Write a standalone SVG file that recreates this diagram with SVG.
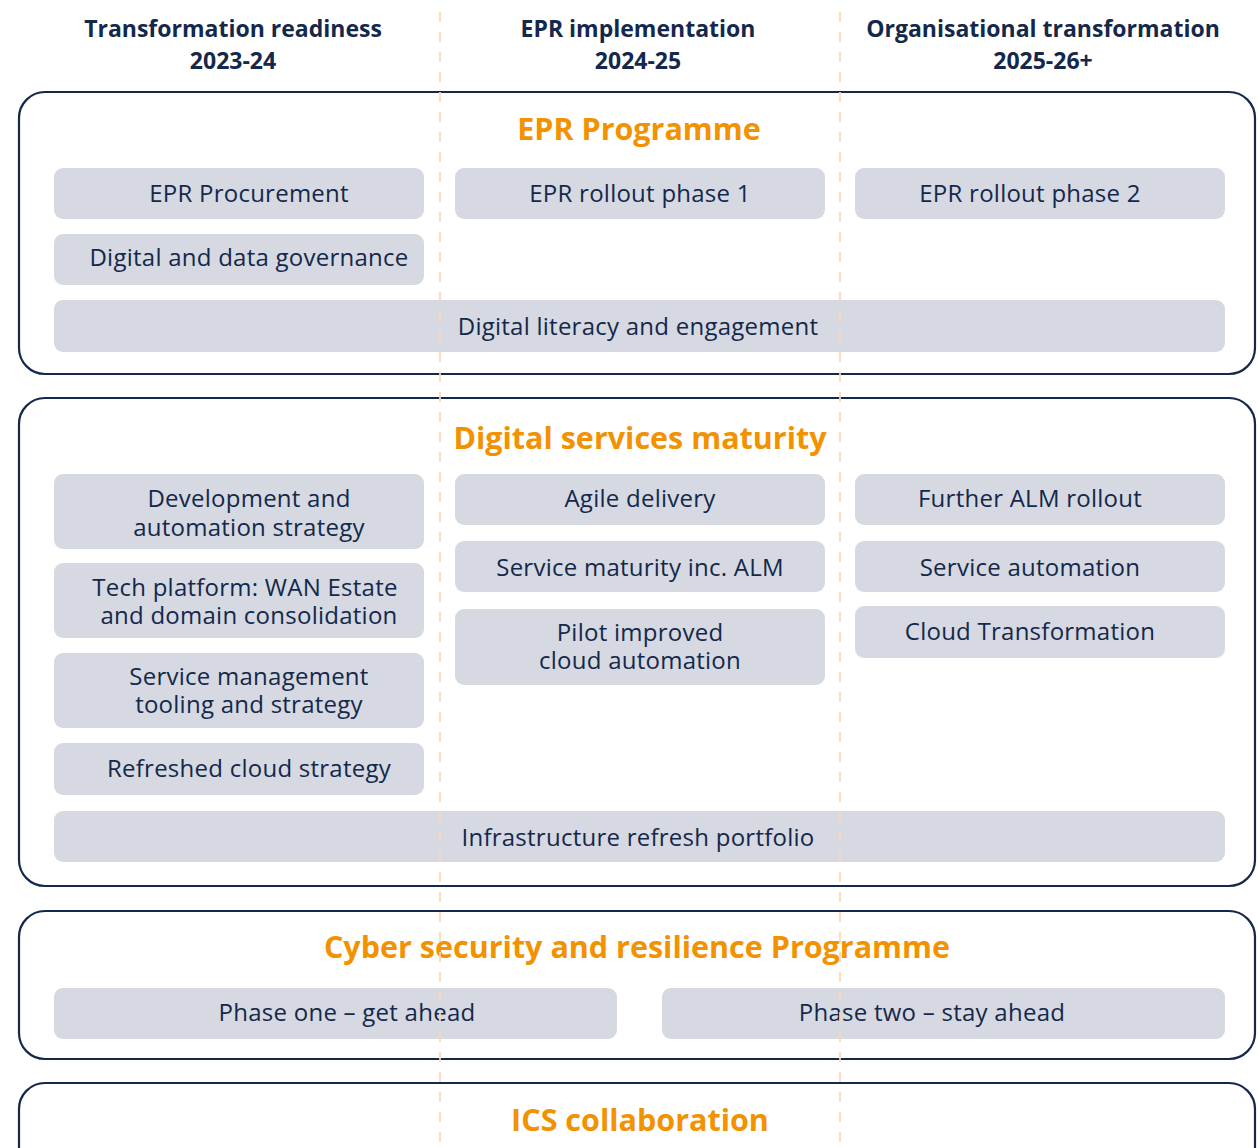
<svg xmlns="http://www.w3.org/2000/svg" width="1258" height="1148" viewBox="0 0 1258 1148">
  <style>
    .hdr { font-family: "Open Sans", "Noto Sans", sans-serif; font-weight: 700; font-size: 23px; fill: #14284b; text-anchor: middle; }
    .frame { fill: #ffffff; stroke: #14284b; stroke-width: 2.2; }
    .title { font-family: "Open Sans", "Noto Sans", sans-serif; font-weight: 700; font-size: 30.5px; fill: #f39200; text-anchor: middle; }
    .item rect { fill: #d6d9e1; }
    .item text { font-family: "Open Sans", "Noto Sans", sans-serif; font-size: 24px; letter-spacing: 0.25px; fill: #14284b; text-anchor: middle; }
    .guide { stroke: #fcd9b0; stroke-width: 2; stroke-dasharray: 10 10; opacity: 0.85; }
  </style>

  <rect width="1258" height="1148" fill="#ffffff"/>

  <!-- Phase headers -->
  <g id="header-readiness">
    <text class="hdr" x="233" y="37">Transformation readiness</text>
    <text class="hdr" x="233" y="69">2023-24</text>
  </g>
  <g id="header-implementation">
    <text class="hdr" x="638" y="37">EPR implementation</text>
    <text class="hdr" x="638" y="69">2024-25</text>
  </g>
  <g id="header-organisational">
    <text class="hdr" x="1043" y="37">Organisational transformation</text>
    <text class="hdr" x="1043" y="69">2025-26+</text>
  </g>

  <!-- EPR Programme -->
  <g id="epr-programme">
    <rect class="frame" x="19" y="92" width="1236" height="282" rx="26"/>
    <text class="title" x="639" y="140">EPR Programme</text>
    <g id="epr-procurement" class="item">
      <rect x="54" y="168" width="370" height="51" rx="9"/>
      <text x="249" y="202">EPR Procurement</text>
    </g>
    <g id="epr-rollout-1" class="item">
      <rect x="455" y="168" width="370" height="51" rx="9"/>
      <text x="640" y="202">EPR rollout phase 1</text>
    </g>
    <g id="epr-rollout-2" class="item">
      <rect x="855" y="168" width="370" height="51" rx="9"/>
      <text x="1030" y="202">EPR rollout phase 2</text>
    </g>
    <g id="data-governance" class="item">
      <rect x="54" y="234" width="370" height="51" rx="9"/>
      <text x="249" y="266">Digital and data governance</text>
    </g>
    <g id="digital-literacy" class="item">
      <rect x="54" y="300" width="1171" height="52" rx="9"/>
      <text x="638" y="335">Digital literacy and engagement</text>
    </g>
  </g>

  <!-- Digital services maturity -->
  <g id="digital-services">
    <rect class="frame" x="19" y="398" width="1236" height="488" rx="26"/>
    <text class="title" x="640" y="449">Digital services maturity</text>
    <g id="dev-automation" class="item">
      <rect x="54" y="474" width="370" height="75" rx="9"/>
      <text x="249" y="507">Development and</text>
      <text x="249" y="536">automation strategy</text>
    </g>
    <g id="tech-platform" class="item">
      <rect x="54" y="563" width="370" height="75" rx="9"/>
      <text x="245" y="596">Tech platform: WAN Estate</text>
      <text x="249" y="624">and domain consolidation</text>
    </g>
    <g id="service-management" class="item">
      <rect x="54" y="653" width="370" height="75" rx="9"/>
      <text x="249" y="685">Service management</text>
      <text x="249" y="713">tooling and strategy</text>
    </g>
    <g id="cloud-strategy" class="item">
      <rect x="54" y="743" width="370" height="52" rx="9"/>
      <text x="249" y="777">Refreshed cloud strategy</text>
    </g>
    <g id="agile-delivery" class="item">
      <rect x="455" y="474" width="370" height="51" rx="9"/>
      <text x="640" y="507">Agile delivery</text>
    </g>
    <g id="service-maturity" class="item">
      <rect x="455" y="541" width="370" height="51" rx="9"/>
      <text x="640" y="576">Service maturity inc. ALM</text>
    </g>
    <g id="pilot-cloud" class="item">
      <rect x="455" y="609" width="370" height="76" rx="9"/>
      <text x="640" y="641">Pilot improved</text>
      <text x="640" y="669">cloud automation</text>
    </g>
    <g id="further-alm" class="item">
      <rect x="855" y="474" width="370" height="51" rx="9"/>
      <text x="1030" y="507">Further ALM rollout</text>
    </g>
    <g id="service-automation" class="item">
      <rect x="855" y="541" width="370" height="51" rx="9"/>
      <text x="1030" y="576">Service automation</text>
    </g>
    <g id="cloud-transformation" class="item">
      <rect x="855" y="606" width="370" height="52" rx="9"/>
      <text x="1030" y="640">Cloud Transformation</text>
    </g>
    <g id="infrastructure-refresh" class="item">
      <rect x="54" y="811" width="1171" height="51" rx="9"/>
      <text x="638" y="846">Infrastructure refresh portfolio</text>
    </g>
  </g>

  <!-- Cyber security and resilience Programme -->
  <g id="cyber-programme">
    <rect class="frame" x="19" y="911" width="1236" height="148" rx="26"/>
    <text class="title" x="637" y="958">Cyber security and resilience Programme</text>
    <g id="phase-one" class="item">
      <rect x="54" y="988" width="563" height="51" rx="9"/>
      <text x="347" y="1021">Phase one – get ahead</text>
    </g>
    <g id="phase-two" class="item">
      <rect x="662" y="988" width="563" height="51" rx="9"/>
      <text x="932" y="1021">Phase two – stay ahead</text>
    </g>
  </g>

  <!-- ICS collaboration -->
  <g id="ics-collaboration">
    <rect class="frame" x="19" y="1083" width="1236" height="120" rx="26"/>
    <text class="title" x="640" y="1131">ICS collaboration</text>
  </g>

  <!-- Phase boundary guides, drawn over everything -->
  <g id="connectors">
    <line class="guide" x1="440" y1="12" x2="440" y2="1148"/>
    <line class="guide" x1="840" y1="12" x2="840" y2="1148"/>
  </g>
</svg>
